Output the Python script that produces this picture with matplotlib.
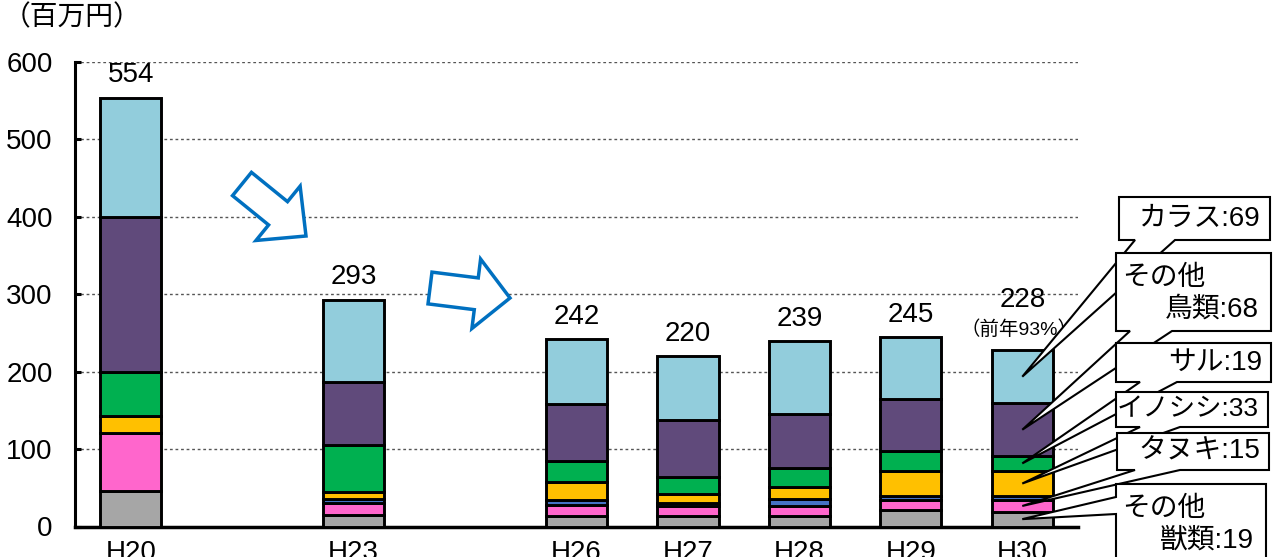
import matplotlib
matplotlib.use('Agg')
import matplotlib.pyplot as plt
from matplotlib.patches import Polygon
import numpy as np

plt.rcParams['font.family'] = ['Liberation Sans', 'Noto Sans CJK JP', 'DejaVu Sans']

# data (百万円)
years = ['H20', 'H23', 'H26', 'H27', 'H28', 'H29', 'H30']
xpos = [0, 2, 4, 5, 6, 7, 8]
other_beasts = [46, 15, 13, 13, 13, 21, 19]   # その他獣類
tanuki = [75, 16, 15, 13, 14, 13, 15]         # タヌキ
small_blue = [0, 5, 6, 4, 9, 5, 5]            # unlabeled thin layer
boar = [22, 9, 23, 12, 15, 33, 33]            # イノシシ
monkey = [56, 60, 28, 22, 25, 26, 19]         # サル
other_birds = [201, 82, 73, 74, 69, 67, 68]   # その他鳥類
crow = [154, 106, 84, 82, 94, 80, 69]         # カラス

layers = [other_beasts, tanuki, small_blue, boar, monkey, other_birds, crow]
colors = ['#A6A6A6', '#FF66CC', '#4472C4', '#FFC000', '#00B050', '#604A7B', '#92CDDC']

# callouts: label, layer index
callout_names = ['カラス', 'その他\n鳥類', 'サル', 'イノシシ', 'タヌキ', 'その他\n獣類']
callout_layer = [6, 5, 4, 3, 1, 0]

W, H = 1273, 557
fig = plt.figure(figsize=(W / 100, H / 100), dpi=100)
ax = fig.add_axes([75 / W, 1 - 526.5 / H, (1078 - 75) / W, (526.5 - 62) / H])

bottom = np.zeros(len(years))
for vals, col in zip(layers, colors):
    ax.bar(xpos, vals, 0.55, bottom=bottom, color=col, edgecolor='black',
           linewidth=2.1, zorder=3)
    bottom += np.array(vals)
totals = bottom

ax.set_xlim(-0.5, 8.5)
ax.set_ylim(0, 600)
ax.set_yticks(range(0, 601, 100))
ax.set_xticks(xpos)
ax.set_xticklabels(years)
ax.tick_params(axis='y', direction='in', length=4.5, width=2.2, labelsize=20, pad=16)
ax.tick_params(axis='x', length=0, labelsize=20, pad=9.5)
ax.grid(axis='y', linestyle=(0, (2, 2)), color='#555555', linewidth=1, zorder=0)
for s in ['top', 'right']:
    ax.spines[s].set_visible(False)
ax.spines['left'].set_linewidth(2.2)
ax.spines['bottom'].set_linewidth(2.5)

for i, t in enumerate(totals):
    if i < len(totals) - 1:
        ax.annotate(str(int(t)), (xpos[i], t), xytext=(0, 11), textcoords='offset points',
                    ha='center', va='baseline', fontsize=20)
ratio = round(totals[-1] / totals[-2] * 100)
ax.annotate(str(int(totals[-1])), (xpos[-1], totals[-1]), xytext=(0, 31),
            textcoords='offset points', ha='center', va='baseline', fontsize=20)
ax.annotate(f'（前年{ratio}%）', (xpos[-1], totals[-1]), xytext=(-2, 11),
            textcoords='offset points', ha='center', va='baseline', fontsize=14)

fig.text(3 / W, 1 - 5 / H, '（百万円）', ha='left', va='top', fontsize=20)
fig.text(645 / W, 1 - 1 / H, '野生鳥獣による農作物被害額の推移', ha='center',
         va='bottom', fontsize=22)


def px(x, y):
    # pixel coords (top-left origin) -> figure fraction
    return (x / W, 1 - y / H)


def block_arrow(tail, tip, sw, hw, hl):
    t = np.array(tail, float)
    p = np.array(tip, float)
    u = (p - t) / np.linalg.norm(p - t)
    n = np.array([-u[1], u[0]])
    b = p - u * hl
    pts = [t + n * sw / 2, b + n * sw / 2, b + n * hw / 2, p,
           b - n * hw / 2, b - n * sw / 2, t - n * sw / 2]
    poly = Polygon([px(*q) for q in pts], closed=True, facecolor='white',
                   edgecolor='#0070C0', linewidth=2.5, transform=fig.transFigure,
                   zorder=4)
    fig.add_artist(poly)


block_arrow((242, 184), (306, 236), 30, 70, 36)
block_arrow((430, 288), (510, 298), 32, 70, 34)

# callout boxes (pixel layout) and wedge bases
boxes = [
    (1119, 197, 1270, 240, 'bottom', 1135, 1175),
    (1116, 253, 1271, 331, 'bottom', 1130, 1172),
    (1116, 343, 1271, 382, 'bottom', 1140, 1177),
    (1116, 392, 1268, 427, 'bottom', 1140, 1180),
    (1117, 433, 1269, 470, 'bottom', 1135, 1180),
    (1116, 484, 1266, 580, 'left', 497, 514),
]

fig.canvas.draw()
cum = np.cumsum([l[-1] for l in layers])
for k, (name, li) in enumerate(zip(callout_names, callout_layer)):
    x0, y0, x1, y1, side, a, b = boxes[k]
    lo = cum[li] - layers[li][-1]
    mid = (lo + cum[li]) / 2
    dx, dy = ax.transData.transform((xpos[-1], mid))
    tip = (dx, H - dy)
    if side == 'bottom':
        pts = [(x0, y0), (x1, y0), (x1, y1), (b, y1), tip, (a, y1), (x0, y1)]
    else:
        pts = [(x0, y0), (x1, y0), (x1, y1), (x0, y1), (x0, b), tip, (x0, a)]
    poly = Polygon([px(*q) for q in pts], closed=True, facecolor='white',
                   edgecolor='black', linewidth=1.5, transform=fig.transFigure,
                   zorder=5 + k)
    fig.add_artist(poly)
    val = layers[li][-1]
    if '\n' in name:
        first, second = name.split('\n')
        fig.text(*px(x0 + 6, y0 + 25), first, ha='left', va='center', fontsize=20,
                 zorder=5.5 + k)
        fig.text(*px(x1 - 12, y0 + 57), f'{second}:{val}', ha='right', va='center',
                 fontsize=20, zorder=5.5 + k)
    else:
        fig.text(*px(x1 - 9, (y0 + y1) / 2), f'{name}:{val}', ha='right', va='center',
                 fontsize=19 if len(name) > 3 else 20, zorder=5.5 + k)

fig.savefig('out.png', dpi=100)
